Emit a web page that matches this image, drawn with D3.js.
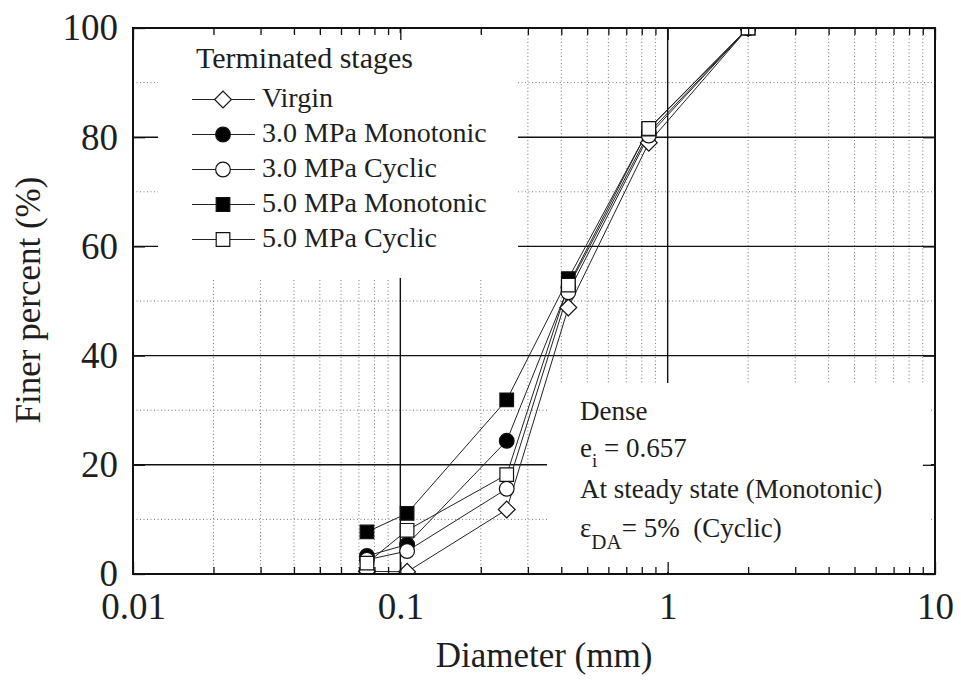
<!DOCTYPE html>
<html>
<head>
<meta charset="utf-8">
<script src="https://cdn.jsdelivr.net/npm/d3@7"></script>
<style>
  body { margin: 0; background: #fff; }
  text { font-family: "Liberation Serif", "Times New Roman", serif; fill: #1e1e1e; }
</style>
</head>
<body>
<svg id="chart" width="961" height="681"></svg>
<script>
// sieve sizes, mm
var diameters = [0.075, 0.106, 0.25, 0.425, 0.85, 2.0]

// finer percent for each terminated stage
var virgin = [0.5, 0.4, 11.8, 48.8, 79.0, 100]
var mono3 = [3.3, 5.4, 24.4, 52.5, 80.8, 100]
var cyclic3 = [2.6, 4.2, 15.6, 51.6, 80.3, 100]
var mono5 = [7.7, 11.1, 31.9, 54.1, 81.5, 100]
var cyclic5 = [2.0, 8.0, 18.2, 52.9, 81.6, 100]

var seriesNames = ["Virgin", "3.0 MPa Monotonic", "3.0 MPa Cyclic", "5.0 MPa Monotonic", "5.0 MPa Cyclic"]
var seriesValues = [virgin, mono3, cyclic3, mono5, cyclic5]
var seriesShapes = ["diamond", "circle", "circle", "square", "square"]
var seriesFilled = [false, true, false, true, false]

var xTicks = [0.01, 0.1, 1, 10]
var yTicks = [0, 20, 40, 60, 80, 100]
var yMinor = [10, 30, 50, 70, 90]

var pLeft = 133, pRight = 935, pTop = 28, pBottom = 574

var x = d3.scaleLog().domain([0.01, 10]).range([pLeft, pRight])
var y = d3.scaleLinear().domain([0, 100]).range([pBottom, pTop])

var xMinor = []
xTicks.slice(0, 3).forEach(function(d){
    for (var k = 2; k <= 9; k++) xMinor.push(d * k)
})

var svg = d3.select("#chart")

svg.append("defs").append("clipPath").attr("id", "plotclip")
    .append("rect")
    .attr("x", pLeft).attr("y", pTop)
    .attr("width", pRight - pLeft).attr("height", pBottom - pTop)

// dotted minor grid
var grid = svg.append("g")
grid.selectAll(".vminor").data(xMinor).enter().append("line")
    .attr("x1", function(d){ return x(d) }).attr("x2", function(d){ return x(d) })
    .attr("y1", pTop).attr("y2", pBottom)
    .attr("stroke", "#7a7a7a").attr("stroke-width", 1).attr("stroke-dasharray", "1,2.5")
grid.selectAll(".hminor").data(yMinor).enter().append("line")
    .attr("x1", pLeft).attr("x2", pRight)
    .attr("y1", function(d){ return y(d) }).attr("y2", function(d){ return y(d) })
    .attr("stroke", "#7a7a7a").attr("stroke-width", 1).attr("stroke-dasharray", "1,2.5")

// solid major grid
grid.selectAll(".vmajor").data([0.1, 1]).enter().append("line")
    .attr("x1", function(d){ return x(d) }).attr("x2", function(d){ return x(d) })
    .attr("y1", pTop).attr("y2", pBottom)
    .attr("stroke", "#111").attr("stroke-width", 1.4)
grid.selectAll(".hmajor").data([20, 40, 60, 80]).enter().append("line")
    .attr("x1", pLeft).attr("x2", pRight)
    .attr("y1", function(d){ return y(d) }).attr("y2", function(d){ return y(d) })
    .attr("stroke", "#111").attr("stroke-width", 1.4)

// white panels behind legend and note
svg.append("rect").attr("x", 158).attr("y", 33).attr("width", 360).attr("height", 245).attr("fill", "#fff")
svg.append("rect").attr("x", 547).attr("y", 383).attr("width", 384).attr("height", 189).attr("fill", "#fff")

function symbolPath(shape){
    if (shape == "circle") return d3.symbol().type(d3.symbolCircle).size(170)()
    if (shape == "square") return d3.symbol().type(d3.symbolSquare).size(185)()
    return d3.symbol().type(d3.symbolSquare).size(140)()
}
function symbolRot(shape){ return shape == "diamond" ? " rotate(45)" : "" }

// data
var plot = svg.append("g").attr("clip-path", "url(#plotclip)")
var line = d3.line()
    .x(function(d){ return x(d[0]) })
    .y(function(d){ return y(d[1]) })

seriesValues.forEach(function(vals, i){
    var pts = diameters.map(function(d, j){ return [d, vals[j]] })
    plot.append("path")
        .attr("d", line(pts))
        .attr("fill", "none").attr("stroke", "#222").attr("stroke-width", 1)
})
seriesValues.forEach(function(vals, i){
    var pts = diameters.map(function(d, j){ return [d, vals[j]] })
    plot.selectAll(".m" + i).data(pts).enter().append("path")
        .attr("d", symbolPath(seriesShapes[i]))
        .attr("transform", function(d){ return "translate(" + x(d[0]) + "," + y(d[1]) + ")" + symbolRot(seriesShapes[i]) })
        .attr("fill", seriesFilled[i] ? "#000" : "#fff")
        .attr("stroke", "#111").attr("stroke-width", 1.2)
})

// axes, ticks pointing inwards
var xAxis = svg.append("g").attr("transform", "translate(0," + pBottom + ")")
    .call(d3.axisBottom(x).tickValues(xTicks).tickSize(-12).tickPadding(19)
        .tickFormat(function(d){ return d3.format("~g")(d) }))
xAxis.selectAll("text").style("font-size", "37px").attr("fill", "#1e1e1e")
svg.append("g").attr("transform", "translate(0," + pBottom + ")")
    .call(d3.axisBottom(x).tickValues(xMinor).tickSize(-7).tickFormat(""))
svg.append("g").attr("transform", "translate(0," + pTop + ")")
    .call(d3.axisTop(x).tickValues(xTicks).tickSize(-12).tickFormat(""))
svg.append("g").attr("transform", "translate(0," + pTop + ")")
    .call(d3.axisTop(x).tickValues(xMinor).tickSize(-7).tickFormat(""))

var yAxis = svg.append("g").attr("transform", "translate(" + pLeft + ",0)")
    .call(d3.axisLeft(y).tickValues(yTicks).tickSize(-12).tickPadding(15))
yAxis.selectAll("text").style("font-size", "37px").attr("fill", "#1e1e1e")
svg.append("g").attr("transform", "translate(" + pRight + ",0)")
    .call(d3.axisRight(y).tickValues(yTicks).tickSize(-12).tickFormat(""))
svg.selectAll(".domain").remove()
svg.selectAll(".tick line").attr("stroke", "#111").attr("stroke-width", 1.3)

svg.append("rect")
    .attr("x", pLeft).attr("y", pTop)
    .attr("width", pRight - pLeft).attr("height", pBottom - pTop)
    .attr("fill", "none").attr("stroke", "#111").attr("stroke-width", 2)

// axis titles
svg.append("text")
    .attr("x", 544).attr("y", 667)
    .attr("text-anchor", "middle")
    .style("font-size", "35px")
    .text("Diameter (mm)")
svg.append("text")
    .attr("transform", "translate(40,300) rotate(-90)")
    .attr("text-anchor", "middle")
    .style("font-size", "35px")
    .text("Finer percent (%)")

// legend
var legend = svg.append("g")
legend.append("text").attr("x", 196).attr("y", 68).style("font-size", "30px").text("Terminated stages")
seriesNames.forEach(function(name, i){
    var by = 107 + i * 35
    var cy = by - 7.5
    legend.append("line")
        .attr("x1", 192).attr("x2", 255).attr("y1", cy).attr("y2", cy)
        .attr("stroke", "#222").attr("stroke-width", 1)
    legend.append("path")
        .attr("d", symbolPath(seriesShapes[i]))
        .attr("transform", "translate(223," + cy + ")" + symbolRot(seriesShapes[i]))
        .attr("fill", seriesFilled[i] ? "#000" : "#fff")
        .attr("stroke", "#111").attr("stroke-width", 1.2)
    legend.append("text").attr("x", 262).attr("y", by).style("font-size", "28px").text(name)
})

// note
var note = svg.append("g").style("font-size", "27px")
note.append("text").attr("x", 580).attr("y", 420).text("Dense")
var t2 = note.append("text").attr("x", 580).attr("y", 457)
t2.append("tspan").text("e")
t2.append("tspan").attr("dy", 10).style("font-size", "19px").text("i")
t2.append("tspan").attr("dy", -10).text(" = 0.657")
note.append("text").attr("x", 580).attr("y", 498).text("At steady state (Monotonic)")
var t4 = note.append("text").attr("x", 580).attr("y", 537).style("white-space", "pre")
t4.append("tspan").text("\u03b5")
t4.append("tspan").attr("dy", 12).style("font-size", "21px").text("DA")
t4.append("tspan").attr("dy", -12).text("= 5%  (Cyclic)")
</script>
</body>
</html>
